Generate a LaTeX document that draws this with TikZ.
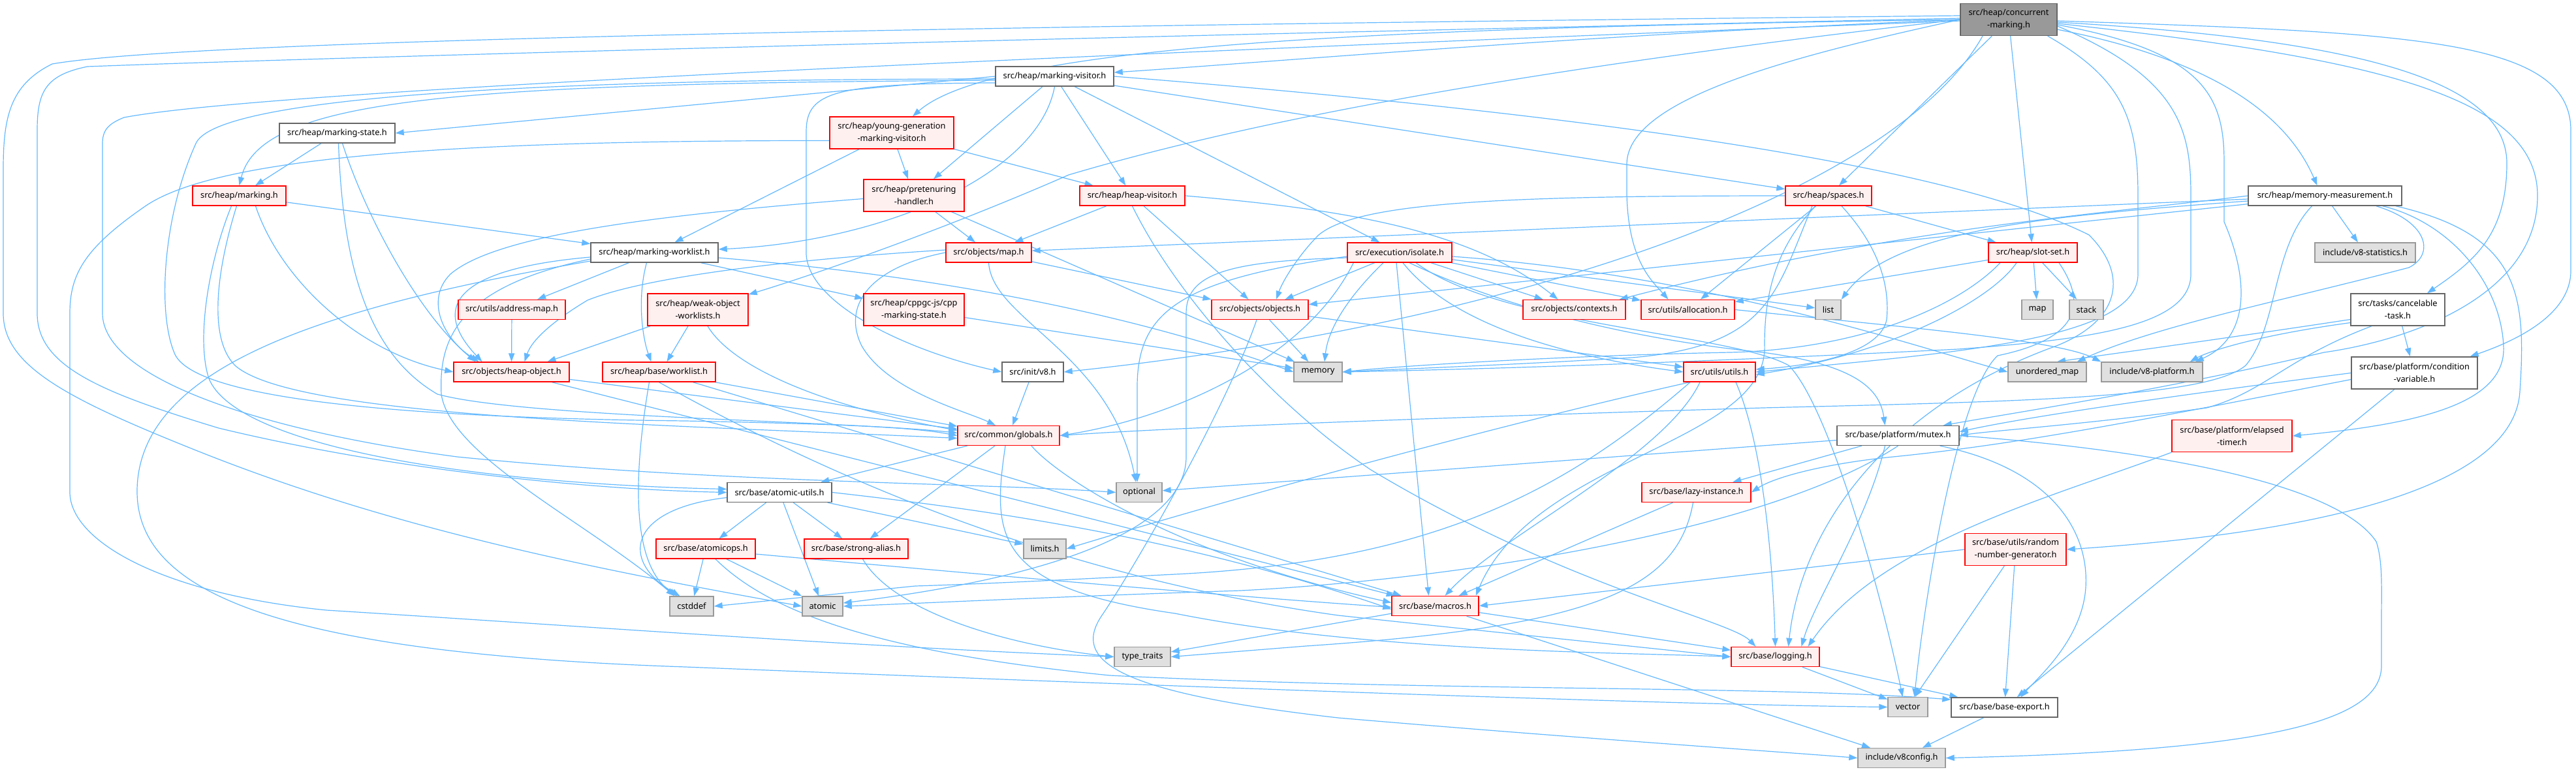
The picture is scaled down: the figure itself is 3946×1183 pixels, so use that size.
\documentclass[tikz,border=0pt]{standalone}
\usepackage{fontspec}
\setmainfont{Noto Sans}
\usetikzlibrary{arrows.meta,calc}
\definecolor{eb}{HTML}{63B8FF}
\definecolor{rfill}{HTML}{FFF0F0}
\definecolor{gfill}{HTML}{E0E0E0}
\definecolor{gborder}{HTML}{999999}
\definecolor{wborder}{HTML}{666666}
\definecolor{rootfill}{HTML}{999999}
\pgfdeclarelayer{bg}
\pgfsetlayers{bg,main}
\begin{document}
\begin{tikzpicture}[x=0.5pt,y=-0.5pt,
  nd/.style={rectangle, inner sep=0pt, line width=0.7pt, font=\fontsize{6.4}{9.5}\selectfont, align=center, minimum height=15pt},
  wn/.style={nd, draw=wborder, fill=white},
  rn/.style={nd, draw=red, fill=rfill},
  gn/.style={nd, draw=gborder, fill=gfill},
  rootn/.style={nd, draw=wborder, fill=rootfill},
  tall/.style={minimum height=24.5pt},
  e/.style={draw=eb, line width=0.6pt, -{Triangle[length=6.5pt,width=4.6pt]}},
]
\useasboundingbox (0,0) rectangle (3946,1183);
% nodes
\node[rootn, tall, minimum width=74pt] (cm) at (3077,30) {src/heap/concurrent\\-marking.h};
\node[wn, minimum width=90.5pt] (mv) at (1615.5,117) {src/heap/marking-visitor.h};
\node[wn, minimum width=88.5pt] (mst) at (516.5,204) {src/heap/marking-state.h};
\node[rn, tall, minimum width=95pt] (ygmv) at (1366,203.5) {src/heap/young-generation\\-marking-visitor.h};
\node[rn, minimum width=71.5pt] (mk) at (366.5,300) {src/heap/marking.h};
\node[rn, tall, minimum width=77pt] (ph) at (1400,299.5) {src/heap/pretenuring\\-handler.h};
\node[rn, minimum width=80.5pt] (hv) at (1734.5,300) {src/heap/heap-visitor.h};
\node[rn, minimum width=66pt] (sp) at (2801,300) {src/heap/spaces.h};
\node[wn, minimum width=117.5pt] (mm) at (3561.5,300) {src/heap/memory-measurement.h};
\node[wn, minimum width=97.5pt] (mw) at (1002.5,387) {src/heap/marking-worklist.h};
\node[rn, minimum width=65.5pt] (omap) at (1514.5,387) {src/objects/map.h};
\node[rn, minimum width=80pt] (iso) at (2144,387) {src/execution/isolate.h};
\node[rn, minimum width=68pt] (ss) at (3114,387) {src/heap/slot-set.h};
\node[gn, minimum width=77pt] (vst) at (3623,387) {include/v8-statistics.h};
\node[rn, minimum width=82pt] (am) at (784,474.5) {src/utils/address-map.h};
\node[rn, tall, minimum width=77pt] (wow) at (1069,474.5) {src/heap/weak-object\\-worklists.h};
\node[rn, tall, minimum width=77pt] (cms) at (1400,474.5) {src/heap/cppgc-js/cpp\\-marking-state.h};
\node[rn, minimum width=74pt] (obj) at (1930,474.5) {src/objects/objects.h};
\node[rn, minimum width=78.5pt] (ctx) at (2411.5,474.5) {src/objects/contexts.h};
\node[rn, minimum width=71.5pt] (alloc) at (2585.5,474.5) {src/utils/allocation.h};
\node[gn, minimum width=19.5pt] (lst) at (2800.5,474.5) {list};
\node[gn, minimum width=24pt] (smap) at (3121,474.5) {map};
\node[gn, minimum width=26pt] (stk) at (3196,474.5) {stack};
\node[wn, tall, minimum width=72pt] (ct) at (3673,474.5) {src/tasks/cancelable\\-task.h};
\node[rn, minimum width=88.5pt] (ho) at (783.5,570) {src/objects/heap-object.h};
\node[rn, minimum width=86.5pt] (wl) at (1009.5,570) {src/heap/base/worklist.h};
\node[wn, minimum width=47pt] (iv8) at (1582,570) {src/init/v8.h};
\node[gn, minimum width=37pt] (mem) at (2019,570) {memory};
\node[rn, minimum width=55pt] (ut) at (2634,570) {src/utils/utils.h};
\node[gn, minimum width=60pt] (umap) at (3136,570) {unordered\_map};
\node[gn, minimum width=77.5pt] (v8p) at (3296.5,570) {include/v8-platform.h};
\node[wn, tall, minimum width=96.5pt] (cv) at (3698.5,571.5) {src/base/platform/condition\\-variable.h};
\node[rn, minimum width=78pt] (gl) at (1545,667.5) {src/common/globals.h};
\node[wn, minimum width=93.5pt] (mx) at (2907.5,667.5) {src/base/platform/mutex.h};
\node[rn, tall, minimum width=92pt] (et) at (3419,668) {src/base/platform/elapsed\\-timer.h};
\node[wn, minimum width=80pt] (au) at (1194,754.5) {src/base/atomic-utils.h};
\node[gn, minimum width=35pt] (opt) at (1745,754.5) {optional};
\node[rn, minimum width=83.5pt] (li) at (2598.5,754.5) {src/base/lazy-instance.h};
\node[rn, minimum width=76pt] (ao) at (1081,841) {src/base/atomicops.h};
\node[rn, minimum width=79.5pt] (sa) at (1311.5,841) {src/base/strong-alias.h};
\node[gn, minimum width=32.5pt] (lim) at (1600.5,841) {limits.h};
\node[rn, tall, minimum width=77.5pt] (rng) at (3087.5,842) {src/base/utils/random\\-number-generator.h};
\node[gn, minimum width=33.5pt] (cst) at (1059.5,929) {cstddef};
\node[gn, minimum width=31pt] (at) at (1260,929) {atomic};
\node[rn, minimum width=66.5pt] (mac) at (2198.5,928.5) {src/base/macros.h};
\node[gn, minimum width=43pt] (tt) at (1750,1006.5) {type\_traits};
\node[rn, minimum width=67.5pt] (log) at (2719.5,1006.5) {src/base/logging.h};
\node[gn, minimum width=30.5pt] (vec) at (2922.5,1083.5) {vector};
\node[wn, minimum width=81.5pt] (be) at (3070.5,1084) {src/base/base-export.h};
\node[gn, minimum width=67pt] (v8c) at (2913,1161.5) {include/v8config.h};

\begin{pgfonlayer}{bg}
% ---- root
\draw[e] (cm.west) .. controls (2400,55) and (1950,95) .. ($(mv.east)+(0,-6)$);
\draw[e] (cm.west) .. controls (2200,42) and (1530,62) .. ($(ygmv.north)+(32,0)$);
\draw[e] (cm.west) .. controls (2300,110) and (1900,190) .. (1637,268) .. controls (1450,350) and (1250,420) .. ($(wow.north east)+(0,2)$);
\draw[e] (cm) -- (sp);
\draw[e] (cm) -- (ss);
\draw[e] ($(cm.south east)+(0,-10)$) .. controls (3380,90) and (3500,170) .. ($(mm.north)+(-12,0)$);
\draw[e] ($(cm.east)+(0,4)$) .. controls (3600,60) and (3840,120) .. (3840,250) .. controls (3840,360) and (3790,400) .. ($(ct.north)+(45,0)$);
\draw[e] ($(cm.east)+(0,2)$) .. controls (3700,50) and (3938,60) .. (3938,200) -- (3938,415) .. controls (3938,480) and (3860,520) .. ($(cv.north east)+(-12,0)$);
\draw[e] ($(cm.east)+(0,6)$) .. controls (3650,90) and (3887,150) .. (3887,300) .. controls (3887,450) and (3700,520) .. (3560,540) .. controls (3300,600) and (3100,630) .. ($(mx.north east)+(-25,0)$);
\draw[e] ($(cm.east)+(0,8)$) .. controls (3380,80) and (3407,150) .. (3407,250) -- (3407,340) .. controls (3450,440) and (3440,520) .. ($(v8p.north east)+(-12,0)$);
\draw[e] ($(cm.south east)+(-15,0)$) .. controls (3250,120) and (3275,180) .. (3275,300) -- (3275,420) .. controls (3275,520) and (3000,540) .. (ut.east);
\draw[e] ($(cm.east)+(0,10)$) .. controls (3340,120) and (3356,200) .. (3356,300) -- (3356,420) .. controls (3356,500) and (3200,520) .. (3000,535) .. controls (2600,555) and (2300,565) .. (mem.east);
\draw[e] (cm.west) .. controls (2750,85) and (2495,150) .. (2492,250) -- (2492,300) .. controls (2495,400) and (2530,430) .. ($(alloc.north)+(-30,0)$);
\draw[e] ($(cm.south)+(-40,0)$) .. controls (2900,300) and (2300,500) .. (iv8.east);
\draw[e] ($(cm.west)+(0,-6)$) .. controls (1500,40) and (300,60) .. (80,98) .. controls (15,130) and (5,180) .. (5,260) -- (5,480) .. controls (5,560) and (100,610) .. (300,690) .. controls (600,810) and (900,870) .. (at.west);
\draw[e] ($(cm.west)+(0,-2)$) .. controls (1500,60) and (450,90) .. (134,102) .. controls (70,115) and (57,140) .. (57,200) -- (57,480) .. controls (57,560) and (150,600) .. (335,656) .. controls (600,720) and (900,750) .. (au.west);
\draw[e] ($(cm.west)+(0,2)$) .. controls (1500,90) and (400,140) .. (190,180) .. controls (165,190) and (157,200) .. (157,220) -- (157,480) .. controls (157,580) and (400,660) .. (700,700) .. controls (1100,740) and (1500,740) .. (opt.west);
% ---- marking-visitor
\draw[e] (mv.west) -- (mst.east);
\draw[e] ($(mv.west)+(0,6)$) .. controls (700,128) and (400,150) .. (mk.north);
\draw[e] ($(mv.west)+(0,4)$) .. controls (800,121) and (330,150) .. (300,220) .. controls (250,330) and (240,480) .. (268,543) .. controls (300,610) and (600,640) .. (1050,645) .. controls (1300,650) and (1400,655) .. (gl.west);
\draw[e] (mv.south) .. controls (1590,270) and (1350,370) .. ($(mw.east)+(0,-5)$);
\draw[e] (mv) -- ($(ph.north)+(30,0)$);
\draw[e] (mv) -- (hv);
\draw[e] (mv) -- (iso);
\draw[e] (mv) -- (sp);
\draw[e] (mv.east) .. controls (2500,180) and (3000,260) .. (3200,360) .. controls (3260,420) and (3250,490) .. (3150,530) .. controls (2900,620) and (2760,800) .. ($(log.north)+(20,0)$);
\draw[e] ($(mv.west)+(0,10)$) .. controls (1280,128) and (1236,140) .. (1235,200) -- (1235,390) .. controls (1240,470) and (1400,540) .. (iv8.west);
% ---- young generation
\draw[e] (ygmv) -- (mw);
\draw[e] (ygmv) -- (ph);
\draw[e] (ygmv) -- (hv);
\draw[e] ($(ygmv.west)+(0,12)$) .. controls (700,215) and (330,240) .. (221,317) .. controls (130,380) and (107,420) .. (107,480) -- (107,754) .. controls (107,830) and (250,910) .. (500,935) .. controls (900,960) and (1300,990) .. (tt.west);
% ---- marking-state
\draw[e] (mst) -- (mk);
\draw[e] ($(mst.south)+(8,0)$) .. controls (560,330) and (640,480) .. ($(ho.north)+(-55,0)$);
\draw[e] ($(mst.south)+(2,0)$) .. controls (525,400) and (560,540) .. (670,604) .. controls (800,640) and (1300,645) .. ($(gl.west)+(0,-4)$);
% ---- marking
\draw[e] (mk) -- (mw);
\draw[e] ($(mk.south)+(25,0)$) .. controls (430,430) and (550,540) .. (ho.west);
\draw[e] ($(mk.south)+(-12,0)$) .. controls (320,400) and (300,520) .. (320,580) .. controls (360,680) and (700,740) .. ($(au.west)+(0,-5)$);
\draw[e] ($(mk.south)+(-4,0)$) .. controls (330,420) and (320,520) .. (360,560) .. controls (450,640) and (1000,650) .. ($(gl.west)+(0,4)$);
% ---- marking-worklist
\draw[e] (mw) -- (am);
\draw[e] ($(mw.south)+(-12,0)$) .. controls (975,460) and (985,520) .. ($(wl.north)+(-12,0)$);
\draw[e] ($(mw.west)+(0,7)$) .. controls (720,410) and (650,460) .. ($(ho.north)+(-45,0)$);
\draw[e] ($(mw.west)+(0,10)$) .. controls (700,440) and (672,520) .. (676,604) .. controls (690,700) and (900,800) .. ($(cst.north west)+(8,0)$);
\draw[e] ($(mw.west)+(0,13)$) .. controls (500,470) and (214,560) .. (210,750) .. controls (208,900) and (400,1000) .. (1050,1022) .. controls (2000,1060) and (2600,1080) .. (vec.west);
\draw[e] (mw) -- (cms);
\draw[e] ($(mw.east)+(0,8)$) .. controls (1400,420) and (1700,470) .. (mem.west);
% ---- others top
\draw[e] (am) -- (ho);
\draw[e] (wow) -- ($(ho.north)+(55,0)$);
\draw[e] (wow) -- ($(wl.north)+(12,0)$);
\draw[e] ($(wow.south)+(15,0)$) .. controls (1120,560) and (1250,620) .. ($(gl.west)+(0,-8)$);
\draw[e] (cms) -- (mem);
\draw[e] ($(wl.south)+(-15,0)$) .. controls (975,700) and (960,860) .. ($(cst.north west)+(12,0)$);
\draw[e] (wl) -- (gl);
\draw[e] (wl) -- (mac);
\draw[e] (wl.south) .. controls (1250,720) and (1600,880) .. (2050,943) .. controls (2300,970) and (2500,990) .. (log.west);
\draw[e] (ho) -- (gl);
\draw[e] (ho) -- (mac);
\draw[e] (ph) -- (omap);
\draw[e] ($(ph.west)+(0,5)$) .. controls (1000,330) and (760,360) .. (690,420) .. controls (650,460) and (680,520) .. ($(ho.north)+(-50,0)$);
\draw[e] (ph) -- (mem);
\draw[e] (hv) -- (omap);
\draw[e] (hv) -- (obj);
\draw[e] (hv.east) .. controls (2050,320) and (2250,350) .. ($(ctx.north)+(-25,0)$);
\draw[e] (hv.south) .. controls (1800,450) and (1950,620) .. (2100,720) .. controls (2400,900) and (2650,950) .. ($(log.north)+(-30,0)$);
\draw[e] (omap) -- (obj);
\draw[e] (omap.west) .. controls (1330,410) and (1290,470) .. (1320,530) .. controls (1360,600) and (1480,630) .. ($(gl.north)+(-20,0)$);
\draw[e] (omap.south) .. controls (1520,490) and (1700,540) .. ($(opt.north)+(-5,0)$);
\draw[e] ($(omap.west)+(0,-4)$) .. controls (1250,395) and (1000,420) .. (900,460) .. controls (850,490) and (815,520) .. ($(ho.north)+(20,0)$);
% ---- isolate
\draw[e] (iso) -- (ctx);
\draw[e] (iso) -- (alloc);
\draw[e] (iso) -- (lst);
\draw[e] (iso) -- (obj);
\draw[e] ($(iso.south)+(-25,0)$) .. controls (2070,450) and (2035,500) .. ($(mem.north)+(10,0)$);
\draw[e] ($(iso.south)+(-5,0)$) -- ($(mac.north)+(-10,0)$);
\draw[e] ($(iso.south)+(5,0)$) .. controls (2210,480) and (2350,540) .. (ut.west);
\draw[e] ($(iso.south)+(15,0)$) .. controls (2300,470) and (2500,520) .. (2700,540) .. controls (2850,560) and (2880,600) .. ($(mx.north)+(-20,0)$);
\draw[e] ($(iso.south)+(25,0)$) .. controls (2300,500) and (2650,510) .. (2740,560) .. controls (2800,620) and (2880,900) .. ($(vec.north)+(-8,0)$);
\draw[e] ($(iso.west)+(0,6)$) .. controls (1800,430) and (1740,480) .. (1742,600) -- ($(opt.north)+(-3,0)$);
\draw[e] ($(iso.west)+(0,8)$) .. controls (1880,400) and (1817,420) .. (1817,480) -- (1817,700) .. controls (1817,800) and (1650,880) .. ($(at.east)+(0,-5)$);
\draw[e] ($(iso.south west)+(10,0)$) .. controls (2000,550) and (1800,640) .. (gl.east);
\draw[e] ($(iso.east)+(0,6)$) .. controls (2600,420) and (2900,520) .. (umap.west);
% ---- spaces
\draw[e] (sp) -- (ss);
\draw[e] (sp) -- (alloc);
\draw[e] (sp.west) .. controls (2300,300) and (2080,310) .. (2020,360) .. controls (1990,390) and (1965,430) .. ($(obj.north)+(25,0)$);
\draw[e] ($(sp.south)+(-25,0)$) .. controls (2720,450) and (2710,530) .. (2500,548) .. controls (2300,560) and (2150,565) .. (mem.east);
\draw[e] ($(sp.south)+(20,0)$) .. controls (2880,380) and (2895,440) .. (2890,490) .. controls (2880,540) and (2780,560) .. ($(ut.east)+(0,-4)$);
\draw[e] ($(sp.south)+(-20,0)$) .. controls (2720,380) and (2703,450) .. (2703,528) .. controls (2710,680) and (2350,700) .. ($(mac.north east)+(-5,0)$);
% ---- memory measurement
\draw[e] (mm) -- (vst);
\draw[e] (mm) -- (omap);
\draw[e] (mm) -- (obj);
\draw[e] (mm.west) .. controls (3200,330) and (2900,350) .. ($(ctx.north east)+(-10,0)$);
\draw[e] ($(mm.west)+(0,8)$) .. controls (3150,330) and (2900,350) .. (lst.north east);
\draw[e] ($(mm.south)+(-20,0)$) .. controls (3480,380) and (3490,500) .. (3440,560) .. controls (3380,610) and (3100,615) .. (2700,625) .. controls (2200,640) and (1800,655) .. (gl.east);
\draw[e] ($(mm.south east)+(-40,0)$) .. controls (3720,340) and (3730,390) .. (3690,410) .. controls (3500,460) and (3300,500) .. ($(umap.north east)+(-15,0)$);
\draw[e] ($(mm.south east)+(-30,0)$) .. controls (3750,340) and (3830,430) .. (3835,530) .. controls (3840,620) and (3700,650) .. (et.east);
\draw[e] ($(mm.south east)+(-10,0)$) .. controls (3860,360) and (3870,450) .. (3860,600) .. controls (3850,760) and (3500,820) .. (rng.east);
% ---- slot-set
\draw[e] (ss) -- (smap);
\draw[e] (ss) -- (stk);
\draw[e] (ss) -- (alloc);
\draw[e] ($(ss.south)+(-25,0)$) .. controls (3050,460) and (2900,540) .. ($(ut.east)+(0,4)$);
\draw[e] ($(ss.south)+(-50,0)$) .. controls (3000,470) and (2850,535) .. (2650,540) .. controls (2400,545) and (2150,560) .. (mem.east);
\draw[e] ($(ss.south)+(40,0)$) .. controls (3200,470) and (3180,520) .. (3060,545) .. controls (3000,600) and (2950,900) .. ($(vec.north)+(10,0)$);
% ---- allocation, tasks, condvar
\draw[e] (alloc.east) .. controls (2900,500) and (3150,520) .. (v8p.north west);
\draw[e] (ct) -- (cv);
\draw[e] ($(ct.west)+(0,15)$) .. controls (3400,520) and (3250,540) .. ($(umap.north)+(15,0)$);
\draw[e] ($(ct.west)+(0,20)$) .. controls (3450,515) and (3380,540) .. ($(v8p.north east)+(-20,0)$);
\draw[e] ($(ct.south)+(-40,0)$) .. controls (3500,550) and (3470,600) .. (3380,625) .. controls (3200,650) and (3050,660) .. (mx.east);
\draw[e] (cv.west) .. controls (3300,610) and (3100,640) .. ($(mx.east)+(0,-6)$);
\draw[e] (cv) -- (be);
\draw[e] ($(cv.west)+(0,10)$) .. controls (3300,640) and (3100,680) .. (2900,700) .. controls (2800,710) and (2720,730) .. (li.east);
% ---- utils
\draw[e] ($(ut.south)+(-30,0)$) .. controls (2550,700) and (2300,820) .. ($(mac.north)+(15,0)$);
\draw[e] ($(ut.south)+(25,0)$) .. controls (2700,680) and (2715,850) .. (log.north);
\draw[e] ($(ut.south)+(-45,0)$) .. controls (2400,750) and (2200,860) .. (1800,880) .. controls (1600,890) and (1500,895) .. (1402,898) -- (cst.east);
\draw[e] ($(ut.south west)+(10,0)$) .. controls (2300,650) and (1900,760) .. (lim.east);
% ---- globals
\draw[e] (gl) -- (au);
\draw[e] (gl) -- (sa);
\draw[e] ($(gl.south)+(35,0)$) .. controls (1620,730) and (1800,850) .. ($(mac.west)+(0,-5)$);
\draw[e] ($(gl.south)+(-5,0)$) .. controls (1520,820) and (1520,900) .. (1800,940) .. controls (2100,1000) and (2500,1000) .. (log.west);
\draw[e] (iv8) -- (gl);
% ---- mutex
\draw[e] (mx) -- (li);
\draw[e] ($(mx.south)+(-20,0)$) .. controls (2860,800) and (2780,920) .. ($(log.north)+(40,0)$);
\draw[e] ($(mx.south east)+(-30,0)$) .. controls (3150,720) and (3200,820) .. (3195,900) .. controls (3190,980) and (3120,1040) .. ($(be.north)+(25,0)$);
\draw[e] (mx.east) .. controls (3300,690) and (3580,740) .. (3640,830) .. controls (3650,860) and (3648,900) .. (3648,950) -- (3648,1020) .. controls (3648,1100) and (3500,1150) .. (v8c.east);
\draw[e] (mx) -- (opt);
\draw[e] (mx.south) .. controls (2700,820) and (2200,890) .. (1900,905) .. controls (1600,915) and (1400,925) .. (at.east);
\draw[e] (et.south west) .. controls (3150,760) and (2880,830) .. ($(log.north)+(50,0)$);
% ---- atomic utils & co
\draw[e] (au) -- (ao);
\draw[e] (au) -- (sa);
\draw[e] (au) -- (at);
\draw[e] ($(au.west)+(0,8)$) .. controls (960,780) and (950,860) .. ($(cst.north)+(-18,0)$);
\draw[e] (au) -- (lim);
\draw[e] (au.east) .. controls (1500,780) and (1800,820) .. ($(mac.west)+(0,5)$);
\draw[e] (ao) -- (cst);
\draw[e] (ao) -- (at);
\draw[e] ($(ao.south)+(15,0)$) .. controls (1180,940) and (1350,1000) .. (1700,1035) .. controls (2200,1060) and (2700,1050) .. ($(be.west)+(0,-12)$);
\draw[e] ($(ao.east)+(0,8)$) .. controls (1500,880) and (1900,915) .. ($(mac.west)+(0,2)$);
\draw[e] ($(sa.south)+(10,0)$) .. controls (1370,940) and (1550,990) .. (tt.west);
\draw[e] (li) -- (mac);
\draw[e] ($(li.south)+(-5,0)$) .. controls (2570,900) and (2450,960) .. (2000,990) -- (tt.east);
% ---- bottom
\draw[e] (rng) -- (vec);
\draw[e] (rng) -- (be);
\draw[e] (rng.west) -- (mac.east);
\draw[e] (mac) -- (log);
\draw[e] (mac) -- (tt);
\draw[e] (mac) -- (v8c);
\draw[e] (log) -- (vec);
\draw[e] (log) -- (be);
\draw[e] (be) -- (v8c);
\draw[e] (obj) -- (mem);
\draw[e] (obj) -- (ut);
\draw[e] ($(obj.south)+(-5,0)$) .. controls (1880,620) and (1750,850) .. (1690,940) .. controls (1640,1010) and (1700,1060) .. (2050,1100) .. controls (2400,1130) and (2700,1150) .. (v8c.west);
\end{pgfonlayer}
\end{tikzpicture}
\end{document}
